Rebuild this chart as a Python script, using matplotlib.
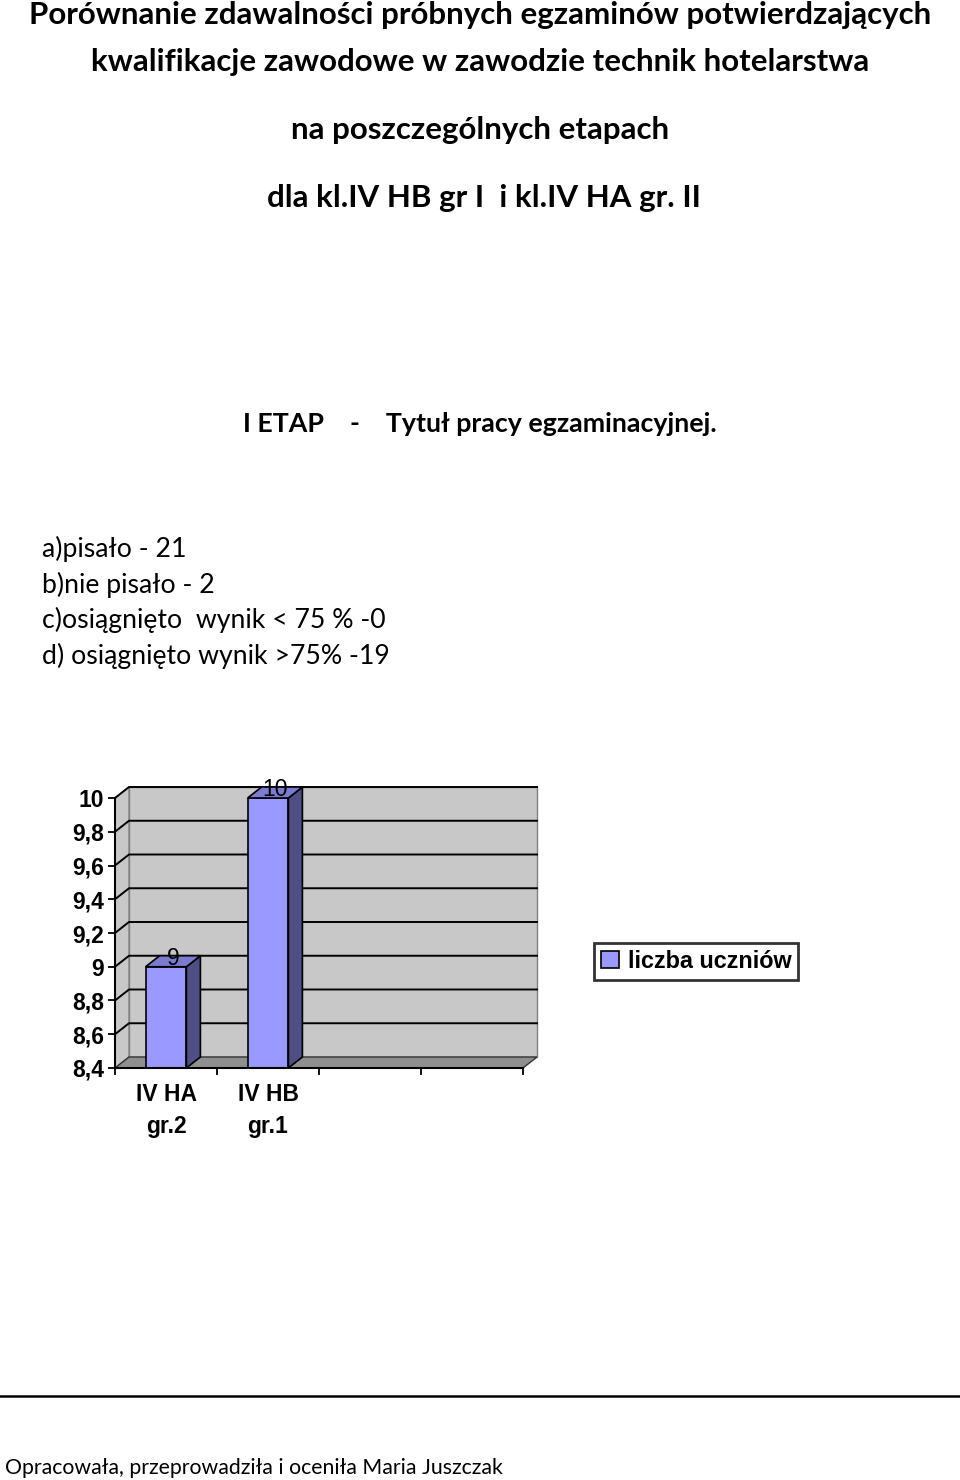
import matplotlib
matplotlib.use("Agg")
import matplotlib.pyplot as plt
from matplotlib.patches import Polygon, Patch
from matplotlib.ticker import FuncFormatter

# ---------------- data ----------------
categories = ["IV HA\ngr.2", "IV HB\ngr.1"]
values = [9, 10]
series_name = "liczba uczniów"
y_ticks = [8.4, 8.6, 8.8, 9.0, 9.2, 9.4, 9.6, 9.8, 10.0]
n_slots = 4

title_lines = [
    "Porównanie zdawalności próbnych egzaminów potwierdzających",
    "kwalifikacje zawodowe w zawodzie technik hotelarstwa",
    "na poszczególnych etapach",
    "dla kl.IV HB gr I  i kl.IV HA gr. II",
]
stage_line = "I ETAP    -    Tytuł pracy egzaminacyjnej."
info_lines = [
    "a)pisało - 21",
    "b)nie pisało - 2",
    "c)osiągnięto  wynik < 75 % -0",
    "d) osiągnięto wynik >75% -19",
]
footer = "Opracowała, przeprowadziła i oceniła Maria Juszczak"

# ---------------- figure ----------------
W, H = 960, 1480
fig = plt.figure(figsize=(W / 100, H / 100), dpi=100)
fig.patch.set_facecolor("white")

TFONT = ["Lato", "DejaVu Sans"]
AFONT = ["Liberation Sans", "DejaVu Sans"]


def fx(x):
    return x / W


def fy(y):
    return 1 - y / H


# title lines (baseline positions in px)
title_base = [24, 71, 139, 207]
title_x = [480, 480, 480, 484]
for t, b, x in zip(title_lines, title_base, title_x):
    fig.text(fx(x), fy(b), t, ha="center", va="baseline", fontsize=22.5,
             fontweight="bold", family=TFONT, color="black")

fig.text(fx(480), fy(432), stage_line, ha="center", va="baseline", fontsize=19.3,
         fontweight="bold", family=TFONT, color="black")

info_base = [557, 593, 628, 664]
for t, b in zip(info_lines, info_base):
    fig.text(fx(42), fy(b), t, ha="left", va="baseline", fontsize=19.2,
             family=TFONT, color="black")

# footer rule and text
fig.add_artist(plt.Line2D([0, 1], [fy(1396), fy(1396)], color="black", lw=1.8,
                          transform=fig.transFigure))
fig.text(fx(5), fy(1474), footer, ha="left", va="baseline", fontsize=15.3,
         family=TFONT, color="black")

# ---------------- chart ----------------
ax_l, ax_r, ax_t, ax_b = 115, 523, 798, 1068
ax = fig.add_axes([fx(ax_l), fy(ax_b), (ax_r - ax_l) / W, (ax_b - ax_t) / H])
ymin, ymax = y_ticks[0], y_ticks[-1]
ax.set_xlim(0, n_slots)
ax.set_ylim(ymin, ymax)
ax.patch.set_visible(False)

# depth offset in data units
dpx, dpy = 14, 11
ddx = dpx / ((ax_r - ax_l) / n_slots)
ddy = dpy / ((ax_b - ax_t) / (ymax - ymin))

wall_c = "#C8C8C8"
floor_c = "#8F8F8F"
# back wall
ax.add_patch(Polygon([(ddx, ymin + ddy), (n_slots + ddx, ymin + ddy),
                      (n_slots + ddx, ymax + ddy), (ddx, ymax + ddy)],
                     closed=True, facecolor=wall_c, edgecolor="#808080", lw=1,
                     clip_on=False, zorder=0.5))
# side wall
ax.add_patch(Polygon([(0, ymin), (ddx, ymin + ddy), (ddx, ymax + ddy), (0, ymax)],
                     closed=True, facecolor=wall_c, edgecolor="#808080", lw=1,
                     clip_on=False, zorder=0.5))
# floor
ax.add_patch(Polygon([(0, ymin), (n_slots, ymin), (n_slots + ddx, ymin + ddy),
                      (ddx, ymin + ddy)],
                     closed=True, facecolor=floor_c, edgecolor="#333333", lw=1,
                     clip_on=False, zorder=0.8))
# gridlines
for yv in y_ticks[1:]:
    ax.plot([0, ddx, n_slots + ddx], [yv, yv + ddy, yv + ddy], color="black",
            lw=1.4, clip_on=False, zorder=1)

# bars
xc = [i + 0.5 for i in range(len(values))]
bw = 0.4
front_c, side_c, top_c = "#9999FF", "#4F4F86", "#7B7BD0"
heights = [v - ymin for v in values]
ax.bar(xc, heights, bottom=ymin, width=bw, color=front_c, edgecolor="black",
       lw=1.2, zorder=3)
for x, v in zip(xc, values):
    r = x + bw / 2
    l = x - bw / 2
    ax.add_patch(Polygon([(r, ymin), (r + ddx, ymin + ddy), (r + ddx, v + ddy), (r, v)],
                         closed=True, facecolor=side_c, edgecolor="black", lw=1.2,
                         clip_on=False, zorder=3))
    ax.add_patch(Polygon([(l, v), (r, v), (r + ddx, v + ddy), (l + ddx, v + ddy)],
                         closed=True, facecolor=top_c, edgecolor="black", lw=1.2,
                         clip_on=False, zorder=3))
    ax.text(x + ddx / 2, v + ddy * 0.75, f"{v:g}", ha="center", va="center",
            fontsize=16.5, family=AFONT, color="black", zorder=4, clip_on=False)

# axes styling
for s in ["top", "right"]:
    ax.spines[s].set_visible(False)
for s in ["left", "bottom"]:
    ax.spines[s].set_color("black")
    ax.spines[s].set_linewidth(1.5)
    ax.spines[s].set_zorder(5)

ax.set_yticks(y_ticks)
ax.yaxis.set_major_formatter(FuncFormatter(lambda v, p: f"{v:g}".replace(".", ",")))
ax.set_xticks(range(n_slots + 1))
ax.set_xticklabels([])
ax.set_xticks(xc, minor=True)
ax.set_xticklabels(categories, minor=True)
ax.tick_params(axis="both", which="major", direction="out", length=5, width=1.3,
               color="black")
ax.tick_params(axis="y", pad=3)
ax.tick_params(axis="x", which="minor", length=0, pad=11)
for lab in ax.get_yticklabels() + ax.get_xticklabels(minor=True):
    lab.set_fontfamily(AFONT)
    lab.set_fontsize(16.5)
    lab.set_fontweight("bold")
for lab in ax.get_xticklabels(minor=True):
    lab.set_linespacing(1.5)

# legend
leg = fig.legend(handles=[Patch(facecolor=front_c, edgecolor="black", lw=1.2,
                                label=series_name)],
                 loc="center left", bbox_to_anchor=(fx(594), fy(961.5)),
                 frameon=True, fancybox=False, edgecolor="black",
                 handlelength=0.75, handleheight=0.75, handletextpad=0.4,
                 borderpad=0.3, borderaxespad=0,
                 prop={"family": AFONT, "size": 16.8, "weight": "bold"})
leg.get_frame().set_linewidth(2)

fig.savefig("out.png", dpi=100, facecolor="white")
